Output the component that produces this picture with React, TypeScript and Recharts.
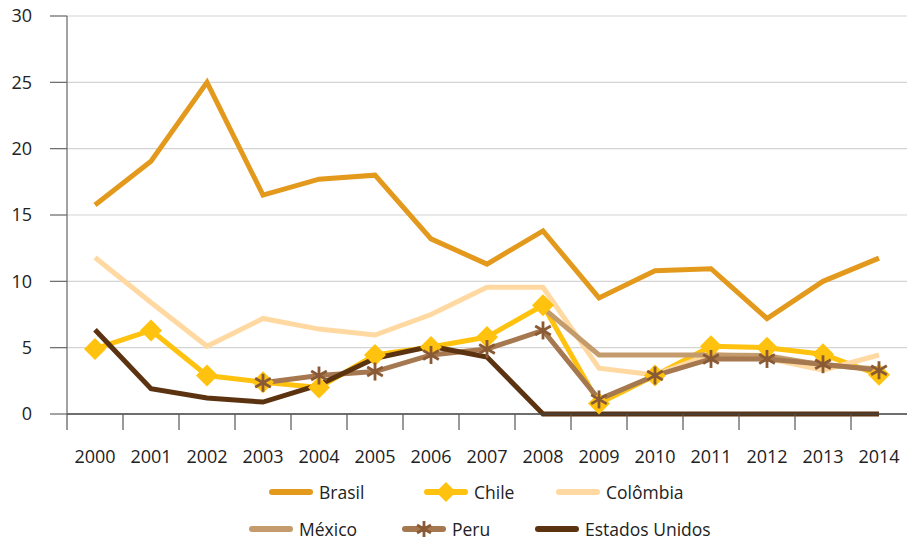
import { LineChart, Line, XAxis, YAxis, CartesianGrid } from "recharts";

const years = ["2000", "2001", "2002", "2003", "2004", "2005", "2006", "2007", "2008", "2009", "2010", "2011", "2012", "2013", "2014"];

const brasil = [15.75, 19.05, 25.0, 16.5, 17.7, 18.0, 13.2, 11.3, 13.8, 8.75, 10.8, 10.95, 7.2, 10.0, 11.75];
const chile = [4.9, 6.3, 2.9, 2.4, 2.0, 4.45, 5.05, 5.8, 8.2, 0.8, 2.9, 5.1, 5.0, 4.5, 2.95];
const colombia = [11.8, 8.4, 5.1, 7.2, 6.4, 5.95, 7.5, 9.55, 9.55, 3.45, 2.95, 4.5, 4.2, 3.3, 4.45];
const mexico = [null, null, null, null, null, null, null, null, 8.0, 4.45, 4.45, 4.45, 4.4, 3.7, 3.4];
const peru = [null, null, null, 2.35, 2.9, 3.2, 4.45, 4.9, 6.3, 1.1, 2.9, 4.15, 4.15, 3.75, 3.3];
const estadosUnidos = [6.35, 1.9, 1.2, 0.9, 2.2, 4.2, 5.1, 4.3, 0, 0, 0, 0, 0, 0, 0];

const yTicks = [0, 5, 10, 15, 20, 25, 30];

const COLORS = {
  brasil: "#E3991C",
  chile: "#FFC20E",
  colombia: "#FFD9A1",
  mexico: "#C49B6C",
  peru: "#A67850",
  peruMark: "#8A5A35",
  eua: "#5C3311",
};

const FONT = "'Open Sans', sans-serif";
const TEXT = "#222";

const data = years.map((year, i) => ({
  year,
  brasil: brasil[i],
  chile: chile[i],
  colombia: colombia[i],
  mexico: mexico[i],
  peru: peru[i],
  eua: estadosUnidos[i],
}));

const BAND = (907 - 67) / years.length;

const Diamond = ({ cx, cy, size = 11 }: any) => {
  if (cx == null || cy == null) return null;
  const s = size;
  return (
    <polygon
      points={`${cx},${cy - s} ${cx + s},${cy} ${cx},${cy + s} ${cx - s},${cy}`}
      fill={COLORS.chile}
    />
  );
};

const Asterisk = ({ cx, cy, size = 9 }: any) => {
  if (cx == null || cy == null) return null;
  const s = size;
  const dx = s * 0.87;
  const dy = s * 0.5;
  return (
    <g stroke={COLORS.peruMark} strokeWidth={2.8}>
      <line x1={cx} y1={cy - s} x2={cx} y2={cy + s} />
      <line x1={cx - dx} y1={cy - dy} x2={cx + dx} y2={cy + dy} />
      <line x1={cx - dx} y1={cy + dy} x2={cx + dx} y2={cy - dy} />
    </g>
  );
};

// year labels centred in each band, tick marks on the band edges
const YearTick = ({ x, y, payload }: any) => (
  <g>
    <line x1={x - BAND / 2} y1={y} x2={x - BAND / 2} y2={y + 16} stroke="#555" strokeWidth={1.2} />
    <text x={x} y={y + 49} textAnchor="middle" fill={TEXT} fontSize={18} fontFamily={FONT}>
      {payload.value}
    </text>
  </g>
);

const legendRows = [
  [
    { key: "brasil", label: "Brasil", width: 155 },
    { key: "chile", label: "Chile", width: 132 },
    { key: "colombia", label: "Colômbia", width: 150 },
  ],
  [
    { key: "mexico", label: "México", width: 153 },
    { key: "peru", label: "Peru", width: 133 },
    { key: "eua", label: "Estados Unidos", width: 200 },
  ],
];

const LegendIcon = ({ k }: { k: string }) => {
  const stroke = (COLORS as any)[k];
  return (
    <svg width={44} height={22} style={{ display: "block" }}>
      <line x1={3} y1={11} x2={41} y2={11} stroke={stroke} strokeWidth={6} strokeLinecap="round" />
      {k === "chile" && <Diamond cx={22} cy={11} size={10} />}
      {k === "peru" && <Asterisk cx={22} cy={11} size={8} />}
    </svg>
  );
};

const ChartLegend = () => (
  <div style={{ position: "absolute", top: 473, left: 0, width: 907, fontFamily: FONT, fontSize: 17.5, lineHeight: "18px", color: TEXT }}>
    {legendRows.map((row, ri) => (
      <div key={ri} style={{ display: "flex", marginLeft: ri === 0 ? 269 : 249, height: 37, alignItems: "center" }}>
        {row.map((item) => (
          <div key={item.key} style={{ display: "flex", alignItems: "center", width: item.width }}>
            <LegendIcon k={item.key} />
            <span style={{ marginLeft: 6 }}>{item.label}</span>
          </div>
        ))}
      </div>
    ))}
  </div>
);

export default function App() {
  return (
    <div style={{ position: "absolute", left: 0, top: 0, width: 907, height: 539, background: "#fff", overflow: "hidden" }}>
      <LineChart width={907} height={539} data={data} margin={{ top: 16, right: 0, left: 0, bottom: 75 }}>
        <CartesianGrid vertical={false} stroke="#d4d4d4" strokeWidth={1.2} />
        <XAxis
          dataKey="year"
          height={50}
          padding={{ left: BAND / 2, right: BAND / 2 }}
          axisLine={{ stroke: "#444", strokeWidth: 1.5 }}
          tickLine={false}
          tickSize={0}
          tickMargin={0}
          interval={0}
          tick={<YearTick />}
        />
        <YAxis
          width={67}
          domain={[0, 30]}
          ticks={yTicks}
          interval={0}
          axisLine={{ stroke: "#666", strokeWidth: 1.2 }}
          tickLine={{ stroke: "#666", strokeWidth: 1.2 }}
          tickSize={17}
          tickMargin={18}
          tick={{ fill: TEXT, fontSize: 18, fontFamily: FONT }}
        />
        <Line dataKey="brasil" stroke={COLORS.brasil} strokeWidth={5} dot={false} isAnimationActive={false} />
        <Line dataKey="chile" stroke={COLORS.chile} strokeWidth={5} dot={<Diamond />} isAnimationActive={false} />
        <Line dataKey="colombia" stroke={COLORS.colombia} strokeWidth={5} dot={false} isAnimationActive={false} />
        <Line dataKey="mexico" stroke={COLORS.mexico} strokeWidth={5} dot={false} isAnimationActive={false} />
        <Line dataKey="peru" stroke={COLORS.peru} strokeWidth={5} dot={<Asterisk />} isAnimationActive={false} />
        <Line dataKey="eua" stroke={COLORS.eua} strokeWidth={5} dot={false} isAnimationActive={false} />
      </LineChart>
      <ChartLegend />
    </div>
  );
}
